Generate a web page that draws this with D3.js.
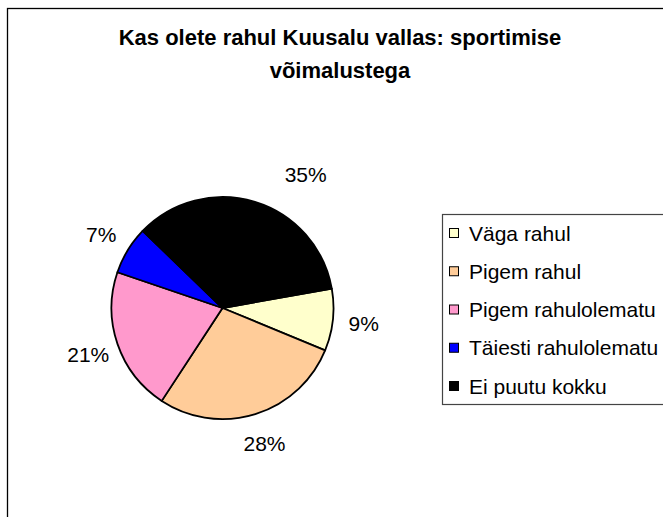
<!DOCTYPE html>
<html>
<head>
<meta charset="utf-8">
<script src="https://cdn.jsdelivr.net/npm/d3@7"></script>
<style>
  html, body { margin: 0; padding: 0; background: #fff; }
  svg { display: block; }
</style>
</head>
<body>
<script>

// chart data
var titleLines = [ 'Kas olete rahul Kuusalu vallas: sportimise', 'võimalustega' ];

var categories = [ 'Väga rahul', 'Pigem rahul', 'Pigem rahulolematu', 'Täiesti rahulolematu', 'Ei puutu kokku' ];

var shares = [ 9, 28, 21, 7, 35 ];

var sliceColors = [ '#ffffcc', '#ffcc99', '#ff99cc', '#0000ff', '#000000' ];



window.onload = function() {

    var width = 663,
        height = 517,

        cx = 222.5,
        cy = 308,
        radius = 111,
        labelRadius = 142,

        startDeg = 80,
        fontFamily = '"Liberation Sans", Arial, sans-serif';


    var svg = d3.select('body')
        .append('svg')
            .attr('width', width)
            .attr('height', height);


    // outer chart frame (runs off the right and bottom)
    svg.append('rect')
        .attr('x', 7.5)
        .attr('y', 8.5)
        .attr('width', 700)
        .attr('height', 600)
        .attr('fill', 'none')
        .attr('stroke', '#000')
        .attr('stroke-width', 1.3);


    // title
    svg.append('g')
        .selectAll('text')
        .data(titleLines)
        .join('text')
            .attr('x', 340)
            .attr('y', function(d, i) { return 45 + i * 33; })
            .attr('text-anchor', 'middle')
            .attr('font-family', fontFamily)
            .attr('font-weight', 'bold')
            .attr('font-size', 22)
            .attr('fill', '#000')
            .text(function(d) { return d; });


    // pie
    var color = d3.scaleOrdinal().domain(categories).range(sliceColors);

    var start = startDeg * Math.PI / 180;

    var pie = d3.pie()
        .sort(null)
        .value(function(d) { return d.value; })
        .startAngle(start)
        .endAngle(start + 2 * Math.PI);

    var arcs = pie(categories.map(function(c, i) { return { name: c, value: shares[i] }; }));

    var arc = d3.arc().innerRadius(0).outerRadius(radius);

    var pieLayer = svg.append('g').attr('transform', 'translate(' + cx + ',' + cy + ')');

    pieLayer.selectAll('path')
        .data(arcs)
        .join('path')
            .attr('d', arc)
            .attr('fill', function(d) { return color(d.data.name); })
            .attr('stroke', '#000')
            .attr('stroke-width', 1.8)
            .attr('stroke-linejoin', 'round');


    // the big slice label sits further round and out, as in the original
    var labelNudge = { 'Ei puutu kokku': { angle: 15, dist: 15 } };

    pieLayer.selectAll('text')
        .data(arcs)
        .join('text')
            .attr('transform', function(d) {
                var n = labelNudge[d.data.name] || { angle: 0, dist: 0 },
                    a = (d.startAngle + d.endAngle) / 2 + n.angle * Math.PI / 180,
                    r = labelRadius + n.dist,
                    p = d3.arc().innerRadius(r).outerRadius(r).centroid({ startAngle: a, endAngle: a });
                return 'translate(' + p[0] + ',' + p[1] + ')';
            })
            .attr('text-anchor', 'middle')
            .attr('dy', '0.36em')
            .attr('font-family', fontFamily)
            .attr('font-size', 21)
            .attr('fill', '#000')
            .text(function(d) { return d3.format('.0f')(d.data.value) + '%'; });


    // legend (box also runs off the right edge)
    var legend = svg.append('g');

    legend.append('rect')
        .attr('x', 442.5)
        .attr('y', 214.5)
        .attr('width', 260)
        .attr('height', 190)
        .attr('fill', '#fff')
        .attr('stroke', '#444')
        .attr('stroke-width', 1.2);

    var rowY = d3.scalePoint().domain(categories).range([ 233, 386 ]);

    var rows = legend.selectAll('g.row')
        .data(categories)
        .join('g')
            .attr('class', 'row')
            .attr('transform', function(d) { return 'translate(0,' + rowY(d) + ')'; });

    rows.append('rect')
        .attr('x', 449.5)
        .attr('y', -4.5)
        .attr('width', 9)
        .attr('height', 9)
        .attr('fill', function(d) { return color(d); })
        .attr('stroke', '#000')
        .attr('stroke-width', 1);

    rows.append('text')
        .attr('x', 469)
        .attr('y', 7.5)
        .attr('font-family', fontFamily)
        .attr('font-size', 21)
        .attr('fill', '#000')
        .text(function(d) { return d; });

};

</script>
</body>
</html>
